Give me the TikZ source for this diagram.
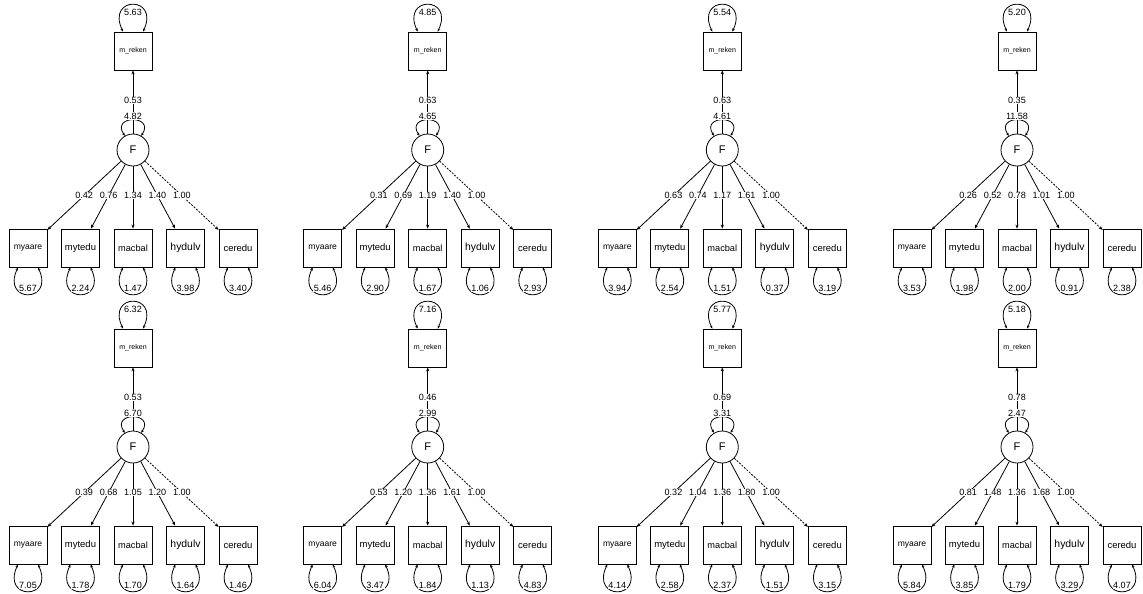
\documentclass[tikz,border=0pt]{standalone}
\usepackage{fontspec}
\setmainfont{Liberation Sans}
\usetikzlibrary{arrows.meta,calc}
\tikzset{
  obs/.style={draw,line width=0.6pt,minimum width=28.5pt,minimum height=28.5pt,inner sep=0pt},
  lat/.style={draw,circle,line width=0.6pt,minimum size=24pt,inner sep=0pt,font=\fontsize{8.3}{8.3}\selectfont},
  edgeline/.style={line width=0.6pt,-{Stealth[length=3pt,width=2.4pt]}},
  fixedline/.style={edgeline,dash pattern=on 1.5pt off 1pt},
  loopline/.style={line width=0.6pt,{Stealth[length=2.4pt,width=2pt]}-{Stealth[length=2.4pt,width=2pt]}},
  num/.style={fill=white,inner sep=0.4pt,font=\fontsize{6.8}{6.8}\selectfont},
}
% #1 panel id, #2 node key, #3 text, #4 font size, #5 dx, #6 loading, #7 residual, #8 line style
\newcommand{\indic}[8]{%
  \node[obs,font=\fontsize{#4}{#4}\selectfont] (#2#1) at ($(F#1)+(#5,98)$) {#3};
  \draw[#8] (F#1) -- (#2#1);
  \node[num] at ($(F#1)!0.465!(#2#1)$) {#6};
  \draw[loopline] ($(#2#1.south)+(-10,0)$) .. controls +(-17,36) and +(17,36) .. ($(#2#1.south)+(10,0)$);
  \node[num] at ($(#2#1)+(0,40)$) {#7};
}
\begin{document}
\begin{tikzpicture}[x=0.75pt,y=-0.75pt]
\useasboundingbox[fill=white] (0,0) rectangle (1143,593);
\foreach \i/\cx/\cy/\vt/\vp/\vf/\la/\lb/\lc/\ld/\ra/\rb/\rc/\rd/\re in {
  1/133/150/5.63/0.53/4.82/0.42/0.76/1.34/1.40/5.67/2.24/1.47/3.98/3.40,
  2/427.7/150/4.85/0.63/4.65/0.31/0.69/1.19/1.40/5.46/2.90/1.67/1.06/2.93,
  3/722.3/150/5.54/0.63/4.61/0.63/0.74/1.17/1.61/3.94/2.54/1.51/0.37/3.19,
  4/1017/150/5.20/0.35/11.58/0.26/0.52/0.78/1.01/3.53/1.98/2.00/0.91/2.38,
  5/133/447/6.32/0.53/6.70/0.39/0.68/1.05/1.20/7.05/1.78/1.70/1.64/1.46,
  6/427.7/447/7.16/0.46/2.99/0.53/1.20/1.36/1.61/6.04/3.47/1.84/1.13/4.83,
  7/722.3/447/5.77/0.69/3.31/0.32/1.04/1.36/1.80/4.14/2.58/2.37/1.51/3.15,
  8/1017/447/5.18/0.78/2.47/0.81/1.48/1.36/1.68/5.84/3.85/1.79/3.29/4.07}
{
  \node[lat] (F\i) at (\cx,\cy) {F};
  \node[obs,font=\fontsize{5.3}{5.3}\selectfont] (M\i) at (\cx,\cy-99) {m\_reken};
  % top residual of m_reken
  \draw[loopline] ($(M\i.north)+(-10,0)$) .. controls +(-17,-36) and +(17,-36) .. ($(M\i.north)+(10,0)$);
  \node[num] at ($(M\i)+(0,-39)$) {\vt};
  % regression path
  \draw[edgeline] (F\i) -- (M\i);
  \node[num] at ($(F\i)!0.5!(M\i)$) {\vp};
  % latent variance
  \draw[loopline] (F\i.120) .. controls +(-14,-21) and +(14,-21) .. (F\i.60);
  \node[num] at ($(F\i)+(0,-34)$) {\vf};
  % indicators
  \indic{\i}{A}{myaare}{6.4}{-105}{\la}{\ra}{edgeline}
  \indic{\i}{B}{mytedu}{7.1}{-52.5}{\lb}{\rb}{edgeline}
  \indic{\i}{C}{macbal}{6.9}{0}{\lc}{\rc}{edgeline}
  \indic{\i}{D}{hydulv}{7.8}{52.5}{\ld}{\rd}{edgeline}
  \indic{\i}{E}{ceredu}{7.1}{105}{1.00}{\re}{fixedline}
}
\end{tikzpicture}
\end{document}
